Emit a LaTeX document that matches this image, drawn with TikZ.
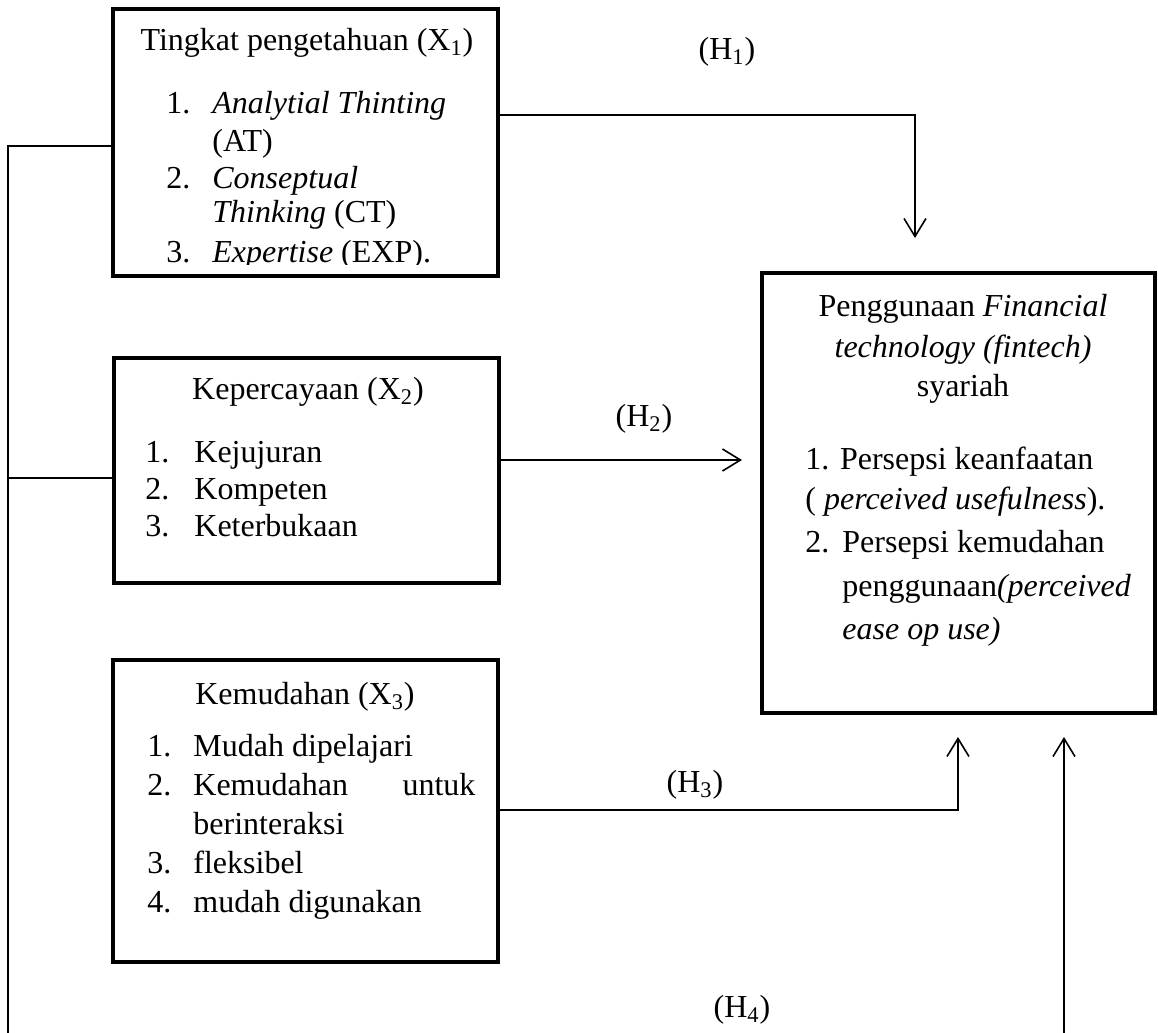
\documentclass[tikz,border=0pt]{standalone}
\usepackage{fontspec}
\setmainfont{Liberation Serif}
\usetikzlibrary{arrows.meta}
\tikzset{
  box/.style={draw, line width=2pt, inner sep=0pt},
  txt/.style={anchor=base west, inner sep=0pt, font=\fontsize{16}{19}\selectfont},
  ctxt/.style={anchor=base, inner sep=0pt, font=\fontsize{16}{19}\selectfont},
  conn/.style={line width=0.8pt},
  arr/.style={conn, -{Straight Barb[length=9pt,width=11pt,line width=0.8pt]}}
}
\begin{document}
\begin{tikzpicture}[x=0.5pt,y=-0.5pt]
\useasboundingbox (0,0) rectangle (1158,1033);
\clip (0,0) rectangle (1158,1033);
% boxes
\node[box, minimum width=192.5pt, minimum height=133.5pt] (b1) at (305.5,142.5) {};
\node[box, minimum width=192.5pt, minimum height=112.5pt] (b2) at (306.5,470.5) {};
\node[box, minimum width=192.5pt, minimum height=151pt] (b3) at (305.5,811) {};
\node[box, minimum width=196.5pt, minimum height=220pt] (b4) at (958.5,493) {};
% box 1 text
\node[ctxt] (t1) at (307,50) {Tingkat pengetahuan (X\textsubscript{1})};
\begin{scope}
\clip (113,0) rectangle (498,264);
\node[txt] (t1n1) at (166,113) {1.};
\node[txt] (t1i1) at (212,113) {\textit{Analytial Thinting}};
\node[txt] (t1i1b) at (212,151) {(AT)};
\node[txt] (t1n2) at (166,188) {2.};
\node[txt] (t1i2) at (212,188) {\textit{Conseptual}};
\node[txt] (t1i2b) at (212,222) {\textit{Thinking} (CT)};
\node[txt] (t1n3) at (166,262) {3.};
\node[txt] (t1i3) at (212,262) {\textit{Expertise} (EXP).};
\end{scope}
% box 2 text
\node[ctxt] (t2) at (308,399) {Kepercayaan (X\textsubscript{2})};
\node[txt] (t2n1) at (145,462) {1.};
\node[txt] (t2i1) at (194,462) {Kejujuran};
\node[txt] (t2n2) at (145,499) {2.};
\node[txt] (t2i2) at (194,499) {Kompeten};
\node[txt] (t2n3) at (145,536) {3.};
\node[txt] (t2i3) at (194,536) {Keterbukaan};
% box 3 text
\node[ctxt] (t3) at (305,704) {Kemudahan (X\textsubscript{3})};
\node[txt] (t3n1) at (147,756) {1.};
\node[txt] (t3i1) at (193,756) {Mudah dipelajari};
\node[txt] (t3n2) at (147,795) {2.};
\node[txt] (t3i2) at (193,795) {\makebox[141pt][l]{Kemudahan\hfill untuk}};
\node[txt] (t3i2b) at (193,834) {berinteraksi};
\node[txt] (t3n3) at (147,873) {3.};
\node[txt] (t3i3) at (193,873) {fleksibel};
\node[txt] (t3n4) at (147,912) {4.};
\node[txt] (t3i4) at (193,912) {mudah digunakan};
% box 4 text
\node[ctxt] (t4a) at (963,316) {Penggunaan \textit{Financial}};
\node[ctxt] (t4b) at (963,357) {\textit{technology (fintech)}};
\node[ctxt] (t4c) at (963,396) {syariah};
\node[txt] (t4i1) at (805,469) {1. Persepsi keanfaatan};
\node[txt] (t4i1b) at (805,509) {( \textit{perceived usefulness}).};
\node[txt] (t4n2) at (805,552) {2.};
\node[txt] (t4i2) at (842,552) {Persepsi kemudahan};
\node[txt] (t4i2b) at (842,596) {penggunaan\textit{(perceived}};
\node[txt] (t4i2c) at (842,639) {\textit{ease op use)}};
% hypothesis labels
\node[ctxt] (h1) at (727,59) {(H\textsubscript{1})};
\node[ctxt] (h2) at (644,426) {(H\textsubscript{2})};
\node[ctxt] (h3) at (695,792) {(H\textsubscript{3})};
\node[ctxt] (h4) at (742,1017) {(H\textsubscript{4})};
% connector coordinates
\coordinate (L1) at (8,146);
\coordinate (L2) at (8,478);
\coordinate (Lend) at (8,1045);
\coordinate (h1turn) at (915,115);
\coordinate (h1end) at (915,238);
\coordinate (h2end) at (742,460);
\coordinate (h3turn) at (958,810);
\coordinate (h3end) at (958,737);
\coordinate (h4start) at (1064,1045);
\coordinate (h4end) at (1064,737);
% connectors
\draw[conn] (Lend) -- (L1) -- (L1 -| b1.west);
\draw[conn] (L2) -- (L2 -| b2.west);
\draw[arr] (h1turn -| b1.east) -- (h1turn) -- (h1end);
\draw[arr] (h2end -| b2.east) -- (h2end);
\draw[arr] (h3turn -| b3.east) -- (h3turn) -- (h3end);
\draw[arr] (h4start) -- (h4end);
\end{tikzpicture}
\end{document}
